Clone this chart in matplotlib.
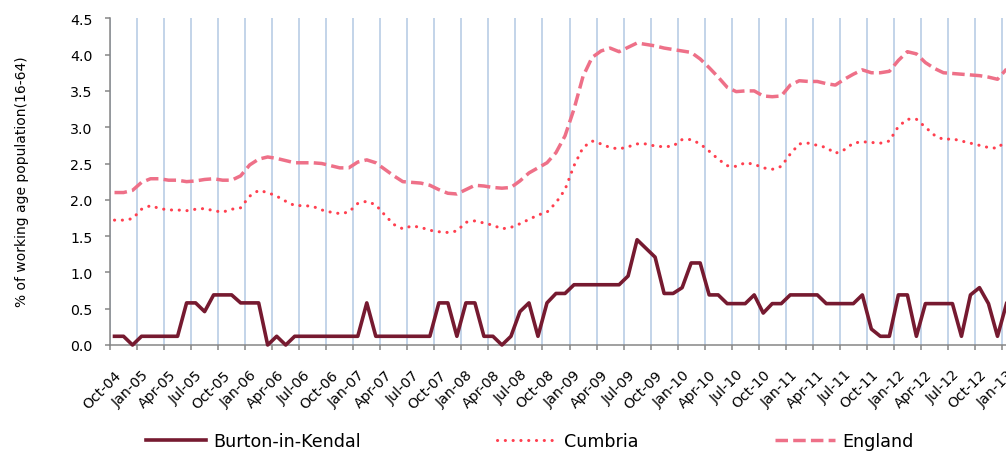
import numpy as np
import matplotlib
matplotlib.use("Agg")
import matplotlib.pyplot as plt
from matplotlib.ticker import FormatStrFormatter

# ---- data (monthly, Oct-04 .. Jan-13) ----
tick_labels = ['Oct-04', 'Jan-05', 'Apr-05', 'Jul-05', 'Oct-05', 'Jan-06', 'Apr-06', 'Jul-06',
               'Oct-06', 'Jan-07', 'Apr-07', 'Jul-07', 'Oct-07', 'Jan-08', 'Apr-08', 'Jul-08',
               'Oct-08', 'Jan-09', 'Apr-09', 'Jul-09', 'Oct-09', 'Jan-10', 'Apr-10', 'Jul-10',
               'Oct-10', 'Jan-11', 'Apr-11', 'Jul-11', 'Oct-11', 'Jan-12', 'Apr-12', 'Jul-12',
               'Oct-12', 'Jan-13']

burton = [0.12, 0.12, 0.00, 0.12, 0.12, 0.12, 0.12, 0.12, 0.58, 0.58,
          0.46, 0.69, 0.69, 0.69, 0.58, 0.58, 0.58, 0.00, 0.12, 0.00,
          0.12, 0.12, 0.12, 0.12, 0.12, 0.12, 0.12, 0.12, 0.58, 0.12,
          0.12, 0.12, 0.12, 0.12, 0.12, 0.12, 0.58, 0.58, 0.12, 0.58,
          0.58, 0.12, 0.12, 0.00, 0.12, 0.46, 0.58, 0.12, 0.58, 0.71,
          0.71, 0.83, 0.83, 0.83, 0.83, 0.83, 0.83, 0.95, 1.45, 1.33,
          1.21, 0.71, 0.71, 0.79, 1.13, 1.13, 0.69, 0.69, 0.57, 0.57,
          0.57, 0.69, 0.44, 0.57, 0.57, 0.69, 0.69, 0.69, 0.69, 0.57,
          0.57, 0.57, 0.57, 0.69, 0.22, 0.12, 0.12, 0.69, 0.69, 0.12,
          0.57, 0.57, 0.57, 0.57, 0.12, 0.69, 0.79, 0.57, 0.12, 0.57]

cumbria = [1.72, 1.72, 1.74, 1.87, 1.92, 1.88, 1.86, 1.86, 1.85, 1.87,
           1.88, 1.85, 1.83, 1.87, 1.89, 2.05, 2.13, 2.10, 2.05, 1.98,
           1.92, 1.92, 1.91, 1.86, 1.83, 1.81, 1.83, 1.95, 1.98, 1.93,
           1.79, 1.66, 1.60, 1.64, 1.62, 1.58, 1.56, 1.55, 1.57, 1.69,
           1.71, 1.68, 1.65, 1.60, 1.62, 1.67, 1.73, 1.79, 1.83, 1.96,
           2.14, 2.47, 2.72, 2.81, 2.77, 2.72, 2.70, 2.73, 2.77, 2.77,
           2.74, 2.73, 2.74, 2.83, 2.83, 2.77, 2.67, 2.56, 2.47, 2.46,
           2.51, 2.49, 2.44, 2.42, 2.46, 2.63, 2.77, 2.78, 2.75, 2.72,
           2.64, 2.69, 2.78, 2.80, 2.79, 2.78, 2.81, 3.01, 3.11, 3.11,
           3.00, 2.89, 2.83, 2.84, 2.81, 2.78, 2.75, 2.72, 2.71, 2.82]

england = [2.10, 2.10, 2.13, 2.24, 2.29, 2.29, 2.27, 2.27, 2.25, 2.26,
           2.28, 2.29, 2.27, 2.27, 2.33, 2.48, 2.56, 2.59, 2.57, 2.54,
           2.51, 2.51, 2.51, 2.50, 2.47, 2.44, 2.44, 2.52, 2.55, 2.51,
           2.42, 2.33, 2.25, 2.24, 2.23, 2.20, 2.14, 2.09, 2.08, 2.14,
           2.20, 2.19, 2.17, 2.16, 2.17, 2.26, 2.37, 2.44, 2.51, 2.65,
           2.88, 3.25, 3.70, 3.96, 4.05, 4.09, 4.04, 4.10, 4.16, 4.14,
           4.12, 4.09, 4.07, 4.05, 4.03, 3.94, 3.82, 3.69, 3.55, 3.49,
           3.50, 3.50, 3.43, 3.42, 3.43, 3.58, 3.64, 3.63, 3.63, 3.60,
           3.58, 3.66, 3.73, 3.79, 3.75, 3.75, 3.77, 3.92, 4.04, 4.01,
           3.89, 3.81, 3.75, 3.74, 3.73, 3.72, 3.71, 3.69, 3.66, 3.80]

series_names = ['Burton-in-Kendal', 'Cumbria', 'England']
y_label = '% of working age population(16-64)'

# ---- figure ----
plt.rcParams['font.family'] = ['DejaVu Sans']
W, H = 1006, 452
fig = plt.figure(figsize=(W / 100, H / 100), dpi=100)
ax = fig.add_axes([110 / W, (H - 346) / H, 901 / W, (346 - 19.3) / H])

x = np.arange(len(burton))
gray = '#868686'

l3, = ax.plot(x, england, color='#EE7088', lw=2.5, linestyle=(0, (3.6, 1.5)),
              dash_capstyle='butt', clip_on=False, label=series_names[2], zorder=3)
l2, = ax.plot(x, cumbria, color='#FF3F4F', lw=2.2, linestyle=(0, (0.05, 2.5)),
              dash_capstyle='round', clip_on=False, label=series_names[1], zorder=3)
l1, = ax.plot(x, burton, color='#761A30', lw=2.6, clip_on=False,
              label=series_names[0], zorder=4)

ax.set_xlim(-0.5, len(burton) - 0.5)
ax.set_ylim(0, 4.5)
ax.set_yticks(np.arange(0, 4.51, 0.5))
ax.yaxis.set_major_formatter(FormatStrFormatter('%.1f'))

# major ticks on category boundaries (gridlines), labels on category centres
ax.set_xticks(np.arange(-0.5, len(burton), 3))
ax.set_xticklabels([])
ax.set_xticks(np.arange(0, len(burton), 3), minor=True)
ax.set_xticklabels(tick_labels, minor=True)

ax.grid(axis='x', which='major', color='#B9CDE5', lw=1.2, zorder=0)
ax.set_axisbelow(True)

ax.tick_params(axis='x', which='major', length=3.6, width=1.1, color=gray, direction='out')
ax.tick_params(axis='x', which='minor', length=0, pad=16, labelsize=10.2)
ax.tick_params(axis='y', length=3.6, width=1.1, color=gray, direction='out', pad=9, labelsize=10.2)

for lbl in ax.get_xticklabels(minor=True):
    lbl.set_rotation(45)
    lbl.set_ha('right')
    lbl.set_va('top')
    lbl.set_rotation_mode('anchor')

for s in ['top', 'right']:
    ax.spines[s].set_visible(False)
for s in ['left', 'bottom']:
    ax.spines[s].set_color(gray)
    ax.spines[s].set_linewidth(1.1)

fig.text(22 / W, 1 - 182 / H, y_label, rotation=90, ha='center', va='center', fontsize=10)

fig.legend([l1, l2, l3], series_names, loc='center',
           bbox_to_anchor=(530 / W, 1 - 442 / H), ncol=3, frameon=False,
           fontsize=12.6, handlelength=3.43, handletextpad=0.4, columnspacing=7.8,
           borderpad=0, borderaxespad=0)

fig.savefig('out.png', dpi=100)
